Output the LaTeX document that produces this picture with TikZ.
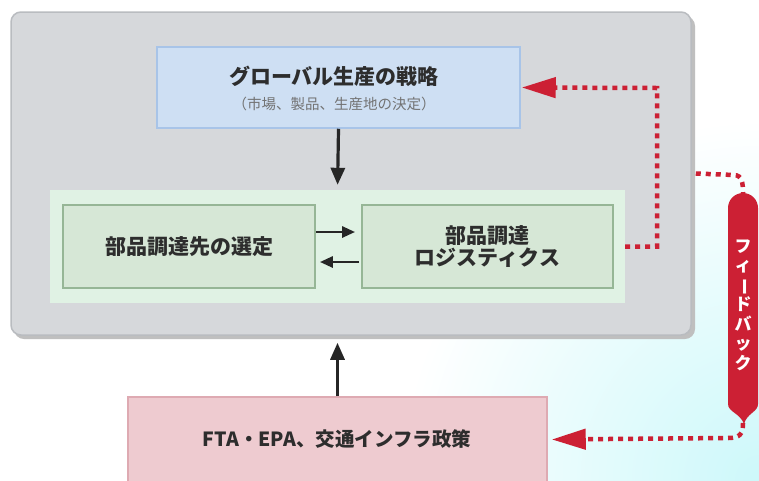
\documentclass[tikz,border=0pt]{standalone}
\usepackage{fontspec}
\usepackage{graphicx}
\setmainfont{Noto Sans CJK JP}
\usetikzlibrary{arrows.meta,calc}
\definecolor{grayfill}{RGB}{214,216,219}
\definecolor{grayedge}{RGB}{185,188,192}
\definecolor{bluefill}{RGB}{206,223,243}
\definecolor{blueedge}{RGB}{168,196,232}
\definecolor{lgreen}{RGB}{224,242,228}
\definecolor{gfill}{RGB}{214,231,214}
\definecolor{gedge}{RGB}{150,182,150}
\definecolor{pinkfill}{RGB}{238,203,208}
\definecolor{pinkedge}{RGB}{222,170,178}
\definecolor{fbred}{RGB}{204,32,52}
\definecolor{txt}{RGB}{45,45,45}
\definecolor{glow}{RGB}{205,248,250}
\pgfdeclareradialshading{cyanglow}{\pgfpoint{0bp}{0bp}}{color(0bp)=(glow); color(9bp)=(white); color(50bp)=(white)}
\tikzset{
  graybox/.style={fill=grayfill, draw=grayedge, line width=1.5pt, rounded corners=10pt},
  bluebox/.style={fill=bluefill, draw=blueedge, line width=1.5pt},
  outerbox/.style={fill=lgreen, draw=none},
  greenbox/.style={fill=gfill, draw=gedge, line width=1.8pt},
  pinkbox/.style={fill=pinkfill, draw=pinkedge, line width=1.5pt},
  bigtext/.style={text=txt, font=\bfseries\fontsize{21}{25}\selectfont, align=center},
  blackarrow/.style={draw=black!85, line width=3.2pt, -{Triangle[length=17pt,width=14pt]}},
  smallarrow/.style={draw=black!85, line width=2.8pt, -{Triangle[length=13pt,width=11pt]}},
  fbline/.style={draw=fbred, line width=4.5pt, dash pattern=on 5pt off 5pt},
  fbarrow/.style={fbline, -{Triangle[length=34pt,width=20pt,fill=fbred]}},
}
\begin{document}
\begin{tikzpicture}[x=1pt,y=-1pt]
\useasboundingbox (0,0) rectangle (759,480);
\begin{scope}
  \clip (0,0) rectangle (759,480);
  \shade[shading=cyanglow] (-240,-520) rectangle (1760,1480);
\end{scope}
% gray container with shadow
\fill[black!25, rounded corners=10pt] (14,16) rectangle (695,339);
\node[graybox, minimum width=680pt, minimum height=323pt] (gray) at (351,173.5) {};
% blue box
\node[bluebox, minimum width=363pt, minimum height=81pt] (blue) at (338.5,87.5) {};
\node[bigtext] (title) at (334,76) {グローバル生産の戦略};
\node[text=black!55, font=\fontsize{14.5}{17}\selectfont] (sub) at (334,104) {（市場、製品、生産地の決定）};
% green container
\node[outerbox, minimum width=575pt, minimum height=113pt] (outer) at (337.5,246.5) {};
\node[greenbox, minimum width=252pt, minimum height=83pt] (left) at (189,246.5) {};
\node[bigtext] (lefttext) at (189,247) {部品調達先の選定};
\node[greenbox, minimum width=251pt, minimum height=83pt] (right) at (487.5,246.5) {};
\node[bigtext] (righttext) at (487.5,247) {部品調達\\[-3pt]ロジスティクス};
% pink box
\node[pinkbox, minimum width=419pt, minimum height=85pt] (pink) at (337.5,439.5) {};
\node[text=txt, font=\bfseries\fontsize{19.5}{23}\selectfont] (pinktext) at (337,439) {FTA・EPA、交通インフラ政策};
% black arrows
\draw[blackarrow, shorten >=5pt] (blue.south) -- (outer.north);
\draw[blackarrow, shorten >=7pt] (pink.north) -- (pink.north |- gray.south);
\draw[smallarrow, shorten >=6pt] ([yshift=14.5pt]left.east) -- ([yshift=14.5pt]right.west);
\draw[smallarrow, shorten <=2pt, shorten >=4pt] ([yshift=-15.5pt]right.west) -- ([yshift=-15.5pt]left.east);
% feedback capsule
\fill[fbred] (728,208) arc[start angle=180, end angle=360, radius=15] -- (758,404)
  .. controls (758,412) and (747,413) .. (744,424) .. controls (740,413) and (728,412) .. (728,404) -- cycle;
\coordinate (captop) at (743,193);
\coordinate (capbot) at (743,423);
\node[text=white, font=\bfseries\fontsize{17}{19.5}\selectfont, align=center, inner sep=0pt] (fbtext) at (743,305)
  {フ\\ィ\\\rotatebox[origin=c]{-90}{ー}\\ド\\バ\\ッ\\ク};
% dotted feedback lines
\coordinate (c1) at (657,88);
\draw[fbarrow, shorten >=1pt] (outer.east) -| (c1) -- (blue.east);
\draw[fbline] (gray.east) ++(4,0) -- (734,175) .. controls (742,175) and (743,183) .. (captop);
\draw[fbarrow, shorten >=4pt] (capbot) .. controls (743,434) and (740,438) .. (728,438) -- (pink.east);
\end{tikzpicture}
\end{document}
